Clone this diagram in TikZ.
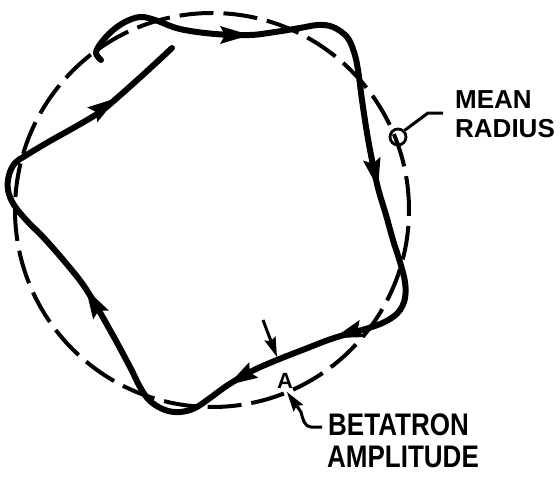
\documentclass[tikz,border=0pt]{standalone}
\usepackage{fontspec}
\setmainfont{Liberation Sans}
\usetikzlibrary{calc}
\begin{document}
\begin{tikzpicture}[x=1pt,y=-1pt,
  traj/.style={line width=6pt, line cap=round, line join=round},
  meanline/.style={dash pattern=on 34pt off 10pt, line width=4pt},
  lead/.style={line width=3pt},
  lab/.style={inner sep=0pt, anchor=base west, font=\bfseries\fontsize{26}{30}\selectfont}]
\useasboundingbox (0,0) rectangle (560,477);
\fill[white] (0,0) rectangle (560,477);
% mean radius circle
\coordinate (c) at (212,210);
\draw[meanline] (c) circle[radius=197pt];
% trajectory
\coordinate (s) at (101,60);
\coordinate (t1) at (250,35);
\coordinate (t2) at (378,188);
\coordinate (t3) at (334,338);
\coordinate (t4) at (228,385);
\coordinate (t5) at (86,289);
\coordinate (t6) at (117,98);
\coordinate (e) at (172,48);
\coordinate (b1) at (225,35);
\coordinate (b2) at (372,160);
\coordinate (b3) at (352,332);
\coordinate (b4) at (252,371);
\coordinate (b5) at (105,322);
\coordinate (b6) at (92,115);
\draw[traj] plot[smooth,tension=0.6] coordinates {(s) (96,53) (101,43) (112,31) (125,22) (140,17) (155,20) (180,29) (215,34) (t1) (275,32) (300,28) (318,25) (333,27) (347,37) (354,52) (358,70) (362,100) (367,133) (372,160) (t2) (386,215) (393,240) (400,262) (405,282) (405,298) (400,310) (390,319) (372,327) (t3) (305,349) (277,360) (252,371) (t4) (210,398) (195,408) (180,412) (165,410) (150,401) (140,387) (130,367) (110,330) (t5) (65,262) (43,237) (28,222) (14,205) (8,190) (9,175) (15,163) (25,156) (50,141) (75,127) (100,112) (t6) (145,73) (e)};
% arrowheads on the trajectory
\foreach \t/\b in {t1/b1, t2/b2, t3/b3, t4/b4, t5/b5, t6/b6}
  \fill (\t) -- ($(\t)!30pt!(\b)!9pt!90:(\t)$) -- ($(\t)!25pt!(\b)$) -- ($(\t)!30pt!(\b)!9pt!-90:(\t)$) -- cycle;
% mean radius label
\node[circle, draw, line width=2.8pt, minimum size=16pt, inner sep=0pt] (mr) at (398,137) {};
\coordinate (mr1) at (428,113);
\coordinate (mr2) at (443,113);
\draw[lead] (mr.north east) -- (mr1) -- (mr2);
\node[lab] (mean) at (455,108) {MEAN};
\node[lab] (radius) at (455,137) {RADIUS};
% betatron amplitude
\coordinate (ua0) at (263,320);
\coordinate (ua1) at (277,357);
\draw[lead, shorten >=8pt] (ua0) -- (ua1);
\node[inner sep=0pt, anchor=base, font=\bfseries\fontsize{22}{24}\selectfont] (amp) at (285,388) {A};
\coordinate (la0) at (322,427);
\coordinate (la1) at (311,427);
\coordinate (la2) at (301,412);
\coordinate (la3) at (287,392);
\draw[lead, shorten >=8pt] (la0) -- (la1) .. controls (305,427) and (303,420) .. (la2) -- (la3);
\foreach \t/\b in {ua1/ua0, la3/la2}
  \fill (\t) -- ($(\t)!20pt!(\b)!6pt!90:(\t)$) -- ($(\t)!17pt!(\b)$) -- ($(\t)!20pt!(\b)!6pt!-90:(\t)$) -- cycle;
\node[lab] (betatron) at (328,435) {\scalebox{1}[1.2]{BETATRON}};
\node[lab] (amplitude) at (327,467) {\scalebox{1}[1.2]{AMPLITUDE}};
\end{tikzpicture}
\end{document}
